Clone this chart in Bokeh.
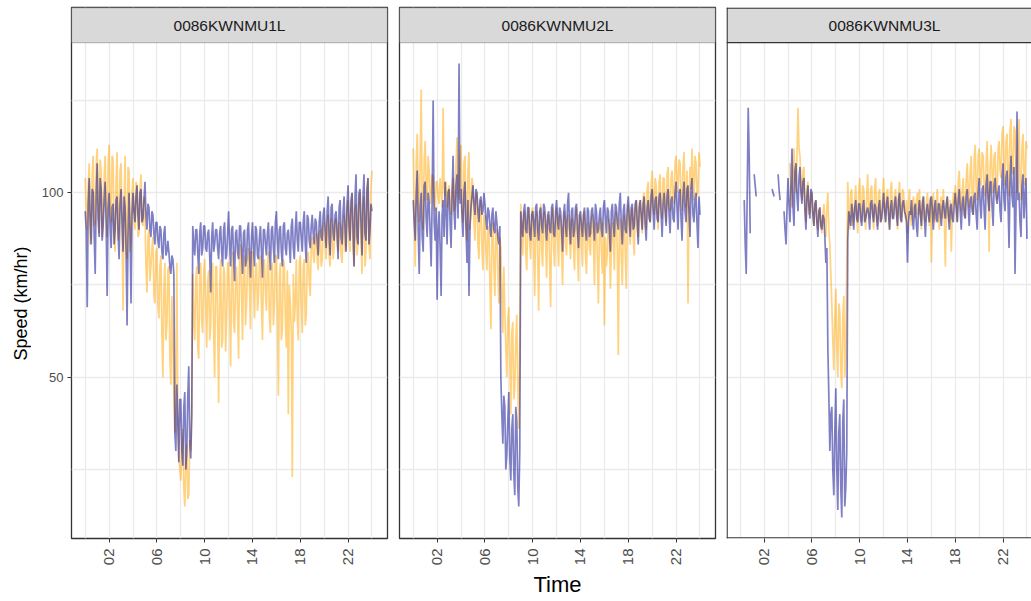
import math
from bokeh.plotting import figure
from bokeh.layouts import row
from bokeh.models import Range1d, FixedTicker, BoxAnnotation, Label, Span
from bokeh.embed import file_html
from bokeh.resources import INLINE

nan = float("nan")

detectors = ["0086KWNMU1L", "0086KWNMU2L", "0086KWNMU3L"]

# time of day in hours, one reading every 5 minutes
hours = [m / 60 for m in range(0, 1441, 5)]

x_breaks = [2, 6, 10, 14, 18, 22]
x_labels = ["02", "06", "10", "14", "18", "22"]
x_minor = [0, 4, 8, 12, 16, 20, 24]
y_breaks = [50, 100]
y_labels = ["50", "100"]
y_minor = [25, 75, 125]

# Speeds (km/hr) are stored in two halves: readings at :00, :10, ..., :50
# (one row per hour, plus the final 24:00 reading) and the readings five
# minutes later (:05, :15, ..., :55).

orange_u1l = [
    104, 90, 108, 88, 110, 92,
    112, 89, 106, 95, 110, 88,
    113, 92, 109, 84, 111, 90,
    108, 68, 110, 82, 106, 88,
    104, 90, 102, 89, 105, 91,
    94, 73, 90, 80, 88, 70,
    85, 66, 83, 50, 81, 64,
    80, 48, 60, 35, 81, 28,
    22, 36, 15, 32, 18, 30,
    78, 60, 80, 55, 81, 62,
    82, 58, 79, 64, 81, 50,
    80, 43, 82, 60, 78, 66,
    81, 53, 84, 62, 80, 55,
    86, 60, 83, 70, 85, 63,
    84, 66, 81, 72, 83, 60,
    82, 68, 84, 62, 81, 70,
    83, 45, 81, 63, 80, 58,
    40, 70, 23, 65, 82, 60,
    83, 62, 82, 67, 84, 72,
    88, 81, 89, 79, 90, 82,
    92, 82, 94, 80, 90, 85,
    93, 84, 91, 81, 94, 86,
    98, 84, 100, 80, 97, 86,
    100, 78, 99, 84, 104, 82,
    106,
]
orange_u1l_mid = [
    95, 102, 86, 105, 91, 107,
    94, 109, 88, 104, 96, 108,
    96, 110, 89, 103, 87, 106,
    90, 95, 85, 107, 84, 100,
    93, 103, 88, 101, 92, 99,
    80, 88, 76, 85, 72, 84,
    70, 80, 62, 74, 60, 79,
    55, 72, 45, 52, 40, 25,
    30, 20, 27, 17, 33, 40,
    66, 76, 58, 79, 65, 78,
    70, 76, 60, 78, 62, 80,
    64, 75, 58, 80, 57, 81,
    70, 78, 65, 76, 68, 82,
    72, 80, 64, 81, 74, 84,
    75, 79, 68, 82, 70, 80,
    73, 80, 66, 79, 64, 83,
    68, 77, 60, 82, 66, 79,
    75, 62, 78, 70, 66, 81,
    70, 80, 64, 82, 76, 86,
    83, 87, 82, 89, 80, 91,
    86, 91, 83, 93, 82, 92,
    87, 92, 83, 90, 84, 96,
    88, 96, 85, 95, 83, 99,
    87, 96, 80, 100, 86, 101,
]

blue_u1l = [
    95, 69, 104, 86, 100, 78,
    108, 88, 101, 91, 103, 72,
    100, 85, 97, 90, 99, 82,
    101, 84, 96, 64, 100, 70,
    100, 92, 102, 90, 101, 93,
    103, 90, 96, 88, 94, 86,
    92, 85, 90, 82, 91, 84,
    84, 78, 82, 35, 48, 27,
    44, 26, 46, 30, 53, 28,
    91, 83, 90, 78, 92, 85,
    91, 84, 90, 73, 92, 86,
    90, 82, 91, 80, 92, 83,
    95, 80, 91, 76, 90, 82,
    91, 78, 90, 82, 92, 77,
    92, 80, 90, 82, 91, 77,
    90, 83, 92, 79, 91, 81,
    95, 82, 91, 80, 92, 83,
    90, 81, 93, 82, 95, 84,
    92, 84, 95, 81, 93, 85,
    94, 86, 92, 83, 95, 87,
    96, 85, 99, 83, 97, 87,
    95, 82, 98, 86, 99, 84,
    102, 87, 100, 80, 105, 86,
    101, 83, 105, 87, 104, 90,
    95,
]
blue_u1l_mid = [
    90, 97, 92, 101, 88, 99,
    93, 104, 87, 98, 92, 96,
    91, 96, 86, 98, 89, 97,
    92, 99, 85, 88, 90, 94,
    95, 99, 94, 100, 92, 98,
    94, 97, 90, 95, 89, 92,
    87, 91, 84, 89, 83, 87,
    80, 83, 78, 30, 38, 44,
    30, 42, 25, 45, 32, 40,
    86, 90, 84, 89, 83, 91,
    85, 89, 83, 88, 84, 90,
    85, 89, 84, 90, 82, 89,
    86, 90, 83, 89, 84, 91,
    84, 89, 80, 90, 83, 88,
    85, 91, 83, 88, 84, 90,
    86, 89, 84, 90, 85, 92,
    87, 90, 84, 91, 85, 89,
    86, 91, 85, 90, 87, 92,
    88, 92, 86, 94, 87, 91,
    89, 93, 87, 92, 88, 94,
    90, 95, 88, 96, 89, 94,
    89, 96, 88, 95, 90, 97,
    91, 98, 90, 99, 88, 100,
    92, 99, 89, 101, 86, 97,
]

orange_u2l = [
    112, 80, 116, 92, 128, 90,
    114, 98, 106, 100, 104, 95,
    103, 97, 100, 123, 99, 96,
    102, 94, 104, 96, 115, 98,
    113, 92, 110, 87, 111, 95,
    102, 87, 100, 82, 98, 79,
    93, 79, 90, 63, 92, 72,
    90, 70, 85, 62, 68, 50,
    69, 40, 65, 47, 67, 36,
    97, 83, 95, 79, 96, 82,
    96, 72, 95, 68, 97, 80,
    95, 77, 94, 69, 96, 80,
    96, 80, 93, 75, 95, 83,
    94, 82, 92, 79, 96, 76,
    93, 80, 95, 78, 92, 83,
    94, 75, 92, 70, 93, 78,
    64, 80, 93, 74, 92, 79,
    95, 56, 93, 75, 94, 74,
    97, 86, 96, 83, 98, 88,
    98, 89, 100, 90, 103, 92,
    106, 94, 102, 90, 105, 93,
    104, 92, 107, 95, 106, 97,
    110, 100, 108, 95, 111, 96,
    70, 107, 112, 98, 108, 100,
    107,
]
orange_u2l_mid = [
    95, 108, 98, 110, 96, 109,
    102, 110, 97, 105, 98, 103,
    99, 104, 96, 101, 103, 100,
    97, 101, 95, 108, 100, 109,
    98, 108, 93, 106, 90, 104,
    92, 99, 86, 96, 85, 94,
    84, 91, 76, 88, 80, 90,
    78, 88, 72, 80, 58, 65,
    55, 62, 44, 60, 48, 58,
    88, 94, 84, 93, 86, 95,
    85, 93, 82, 90, 84, 94,
    86, 92, 81, 93, 85, 91,
    88, 94, 84, 91, 86, 93,
    87, 93, 85, 92, 84, 94,
    86, 94, 83, 90, 85, 93,
    87, 91, 82, 90, 84, 92,
    88, 84, 90, 85, 88, 93,
    84, 90, 82, 91, 83, 92,
    91, 95, 88, 96, 90, 97,
    93, 99, 92, 101, 94, 102,
    97, 104, 95, 103, 96, 104,
    98, 105, 96, 104, 99, 108,
    103, 109, 99, 107, 100, 106,
    96, 101, 105, 110, 99, 111,
]

blue_u2l = [
    98, 87, 106, 78, 100, 84,
    103, 88, 97, 80, 125, 87,
    71, 95, 72, 98, 103, 86,
    101, 85, 110, 90, 105, 135,
    101, 88, 103, 81, 72, 96,
    102, 94, 100, 92, 99, 95,
    97, 90, 95, 88, 96, 89,
    92, 86, 50, 32, 42, 29,
    46, 22, 40, 18, 38, 15,
    95, 88, 97, 89, 96, 87,
    95, 88, 97, 87, 96, 89,
    96, 87, 95, 89, 97, 88,
    98, 90, 95, 84, 97, 88,
    100, 86, 96, 90, 97, 85,
    95, 88, 96, 87, 95, 89,
    96, 87, 95, 90, 96, 88,
    98, 89, 95, 84, 97, 88,
    96, 90, 100, 86, 97, 89,
    99, 88, 97, 91, 98, 86,
    98, 90, 99, 87, 98, 92,
    101, 90, 99, 92, 100, 88,
    100, 91, 101, 89, 99, 92,
    103, 90, 101, 87, 103, 92,
    102, 88, 104, 92, 100, 85,
    94,
]
blue_u2l_mid = [
    92, 99, 90, 96, 88, 102,
    93, 100, 89, 98, 92, 96,
    90, 85, 94, 88, 95, 100,
    92, 99, 95, 102, 93, 97,
    94, 100, 90, 98, 91, 99,
    97, 101, 95, 98, 94, 100,
    93, 96, 91, 94, 90, 95,
    88, 91, 40, 45, 25, 38,
    28, 36, 24, 42, 20, 30,
    91, 95, 90, 96, 89, 94,
    92, 96, 90, 95, 91, 97,
    91, 94, 90, 96, 89, 95,
    92, 96, 90, 94, 91, 97,
    91, 95, 88, 96, 90, 94,
    91, 94, 90, 96, 88, 95,
    92, 97, 89, 94, 90, 96,
    93, 96, 90, 95, 91, 97,
    92, 97, 91, 95, 90, 96,
    93, 96, 90, 97, 92, 96,
    94, 97, 91, 96, 93, 99,
    95, 98, 93, 99, 94, 97,
    95, 99, 94, 98, 93, 100,
    96, 100, 93, 99, 95, 101,
    95, 101, 94, 98, 92, 99,
]

orange_u3l = [
    nan, nan, nan, nan, nan, nan,
    nan, nan, nan, nan, nan, nan,
    nan, nan, nan, nan, nan, nan,
    nan, nan, nan, nan, nan, nan,
    nan, 108, 96, 112, 100, 123,
    110, 98, 107, 92, 103, 95,
    100, 91, 98, 90, 96, 89,
    97, 88, 100, 86, 70, 52,
    74, 50, 68, 47, 72, 55,
    103, 90, 101, 93, 102, 89,
    104, 92, 101, 90, 105, 93,
    102, 90, 104, 91, 101, 93,
    104, 92, 101, 90, 103, 94,
    101, 90, 103, 92, 100, 93,
    89, 101, 91, 99, 93, 100,
    101, 90, 99, 92, 100, 91,
    81, 100, 92, 101, 90, 99,
    101, 80, 99, 92, 84, 100,
    102, 92, 106, 95, 104, 93,
    108, 96, 110, 94, 113, 98,
    112, 102, 110, 99, 114, 84,
    113, 100, 111, 98, 114, 104,
    118, 102, 116, 99, 120, 105,
    117, 100, 120, 98, 116, 102,
    112,
]
orange_u3l_mid = [
    nan, nan, nan, nan, nan, nan,
    nan, nan, nan, nan, nan, nan,
    nan, nan, nan, nan, nan, nan,
    nan, nan, nan, nan, nan, nan,
    nan, 100, 106, 103, 110, 112,
    102, 106, 97, 101, 94, 100,
    94, 97, 92, 95, 91, 94,
    92, 96, 90, 78, 60, 66,
    58, 70, 52, 66, 50, 80,
    95, 100, 91, 98, 94, 100,
    96, 102, 94, 99, 95, 101,
    95, 101, 94, 100, 92, 99,
    96, 100, 95, 101, 93, 99,
    95, 99, 94, 101, 96, 98,
    96, 94, 97, 95, 98, 94,
    94, 98, 93, 97, 95, 99,
    95, 93, 98, 94, 97, 93,
    93, 96, 94, 98, 95, 97,
    96, 103, 97, 101, 96, 104,
    100, 106, 99, 109, 101, 110,
    104, 111, 101, 108, 103, 107,
    105, 110, 102, 112, 106, 116,
    108, 114, 104, 117, 106, 118,
    106, 115, 103, 112, 105, 114,
]

blue_u3l = [
    nan, nan, 98, 78, 123, 89,
    nan, 105, 99, nan, nan, nan,
    nan, nan, nan, nan, 101, 99,
    nan, 105, 98, nan, 95, 86,
    104, 92, 112, 91, 108, 95,
    107, 97, 104, 90, 102, 93,
    100, 91, 98, 88, 96, 90,
    93, 81, 58, 30, 42, 18,
    47, 14, 40, 12, 44, 20,
    87, 93, 97, 90, 98, 92,
    97, 91, 98, 93, 96, 90,
    98, 92, 96, 90, 98, 93,
    100, 92, 99, 90, 98, 93,
    99, 91, 100, 92, 98, 94,
    81, 95, 98, 90, 97, 88,
    98, 91, 99, 88, 97, 92,
    99, 90, 98, 92, 97, 91,
    98, 93, 99, 90, 97, 92,
    100, 92, 101, 90, 99, 93,
    101, 91, 99, 94, 100, 90,
    104, 93, 102, 90, 105, 95,
    103, 91, 104, 97, 102, 92,
    108, 95, 106, 85, 110, 96,
    78, 122, 100, 88, 105, 99,
    87.5,
]
blue_u3l_mid = [
    nan, nan, 86, 100, 110, nan,
    nan, 102, nan, nan, nan, nan,
    nan, nan, nan, nan, 100, nan,
    nan, 101, nan, nan, 90, 96,
    97, 102, 96, 106, 99, 104,
    100, 103, 95, 99, 96, 101,
    94, 97, 92, 95, 91, 94,
    88, 85, 45, 40, 25, 35,
    25, 35, 20, 38, 15, 30,
    95, 91, 94, 96, 93, 97,
    93, 96, 92, 95, 94, 97,
    94, 97, 93, 96, 92, 96,
    95, 97, 94, 96, 93, 97,
    94, 98, 93, 97, 95, 92,
    92, 94, 93, 96, 91, 95,
    94, 97, 93, 95, 94, 98,
    95, 96, 93, 97, 94, 96,
    95, 97, 94, 96, 93, 97,
    96, 98, 95, 97, 94, 99,
    96, 98, 95, 99, 94, 100,
    97, 101, 95, 102, 98, 103,
    96, 102, 99, 100, 95, 104,
    98, 104, 97, 103, 99, 107,
    96, 98, 92, 102, 93, 104,
]


def five_minute(on_ten, on_five):
    """Merge the :x0 and :x5 readings into one time-ordered list."""
    merged = []
    for a, b in zip(on_ten, on_five):
        merged += [a, b]
    merged.append(on_ten[-1])
    return merged


orange_series = [five_minute(orange_u1l, orange_u1l_mid),
                 five_minute(orange_u2l, orange_u2l_mid),
                 five_minute(orange_u3l, orange_u3l_mid)]
blue_series = [five_minute(blue_u1l, blue_u1l_mid),
               five_minute(blue_u2l, blue_u2l_mid),
               five_minute(blue_u3l, blue_u3l_mid)]

FONT = "Liberation Sans"
X_START, X_END = -1.15, 25.3
Y_START, PANEL_TOP, Y_END = 6.3, 140.7, 150.2
PX_PER_HOUR = 316 / (X_END - X_START)
PX_PER_KMH = 531 / (Y_END - Y_START)

# narrow column on the far left that carries the y-axis title
title_col = figure(
    width=31, height=601, x_range=Range1d(0, 31), y_range=Range1d(Y_START, Y_END),
    output_backend="svg", toolbar_location=None, title=None,
    x_axis_location=None, y_axis_location=None,
    min_border_left=0, min_border_right=0, min_border_top=7, min_border_bottom=63,
    outline_line_color=None, background_fill_color="white", border_fill_color="white",
)
title_col.xgrid.visible = False
title_col.ygrid.visible = False
title_col.add_layout(Label(
    x=20, y=70, angle=math.pi / 2,
    text="Speed (km/hr)", text_align="center", text_baseline="middle",
    text_font=FONT, text_font_size="18px", text_color="black",
))

# (figure width, left border, right border, right end of x range)
panel_specs = [
    (362, 40, 6, X_END),
    (327, 6, 5, X_END),
    (311, 6, 0, X_START + 305 / PX_PER_HOUR),
]

figs = [title_col]
for i, (w, bl, br, x_end) in enumerate(panel_specs):
    p = figure(
        width=w, height=601,
        x_range=Range1d(X_START, x_end), y_range=Range1d(Y_START, Y_END),
        output_backend="svg", toolbar_location=None, title=None,
        min_border_left=bl, min_border_right=br,
        min_border_top=7, min_border_bottom=63,
        y_axis_location="left" if i == 0 else None,
        background_fill_color="white", border_fill_color="white",
    )
    last = i == 2
    p.outline_line_color = None if last else "#333333"
    p.outline_line_width = 1.3

    # grid: major and minor breaks both drawn in light grey
    p.xgrid.ticker = FixedTicker(ticks=sorted(x_breaks + x_minor))
    p.ygrid.ticker = FixedTicker(ticks=sorted(y_breaks + y_minor))
    for g in (p.xgrid, p.ygrid):
        g.grid_line_color = "#EBEBEB"
        g.grid_line_width = 1.3

    # x axis
    xa = p.xaxis[0]
    xa.ticker = FixedTicker(ticks=x_breaks)
    xa.major_label_overrides = {b: l for b, l in zip(x_breaks, x_labels)}
    xa.major_label_orientation = math.pi / 2
    xa.major_label_text_font = FONT
    xa.major_label_text_font_size = "15px"
    xa.major_label_text_color = "#4D4D4D"
    xa.major_label_standoff = 6
    xa.major_tick_in = 0
    xa.major_tick_out = 4
    xa.major_tick_line_color = "#333333"
    xa.minor_tick_line_color = None
    xa.axis_line_color = None
    if i == 1:
        xa.axis_label = "Time"
        xa.axis_label_text_font = FONT
        xa.axis_label_text_font_size = "22px"
        xa.axis_label_text_font_style = "normal"
        xa.axis_label_text_color = "black"
        xa.axis_label_standoff = 4

    if i == 0:
        ya = p.yaxis[0]
        ya.ticker = FixedTicker(ticks=y_breaks)
        ya.major_label_overrides = {b: l for b, l in zip(y_breaks, y_labels)}
        ya.major_label_text_font = FONT
        ya.major_label_text_font_size = "13px"
        ya.major_label_text_color = "#4D4D4D"
        ya.major_label_standoff = 4
        ya.major_tick_in = 0
        ya.major_tick_out = 4
        ya.major_tick_line_color = "#333333"
        ya.minor_tick_line_color = None
        ya.axis_line_color = None

    # speed traces: orange underneath, blue on top
    p.line(hours, orange_series[i], line_color="orange", line_alpha=0.5, line_width=1.7)
    p.line(hours, blue_series[i], line_color="darkblue", line_alpha=0.5, line_width=1.7)

    # facet strip across the top of the panel
    p.add_layout(BoxAnnotation(
        bottom=PANEL_TOP, fill_color="#D9D9D9", fill_alpha=1.0,
        line_color=None if last else "#333333", line_width=1.3,
    ))
    p.add_layout(Label(
        x=(X_START + X_END) / 2, y=(PANEL_TOP + Y_END) / 2,
        text=detectors[i], text_align="center", text_baseline="middle",
        text_font=FONT, text_font_size="15.5px", text_color="#1A1A1A",
    ))
    if last:
        # panel cut at the page edge: border on the three visible sides
        half_y = 0.6 / PX_PER_KMH
        half_x = 0.6 / PX_PER_HOUR
        for loc in (PANEL_TOP, Y_START + half_y, Y_END - half_y):
            p.add_layout(Span(location=loc, dimension="width",
                              line_color="#333333", line_width=1.3))
        p.add_layout(Span(location=X_START + half_x, dimension="height",
                          line_color="#333333", line_width=1.3))
    figs.append(p)

layout = row(*figs, spacing=0)
open("out.html", "w").write(file_html(layout, INLINE))
